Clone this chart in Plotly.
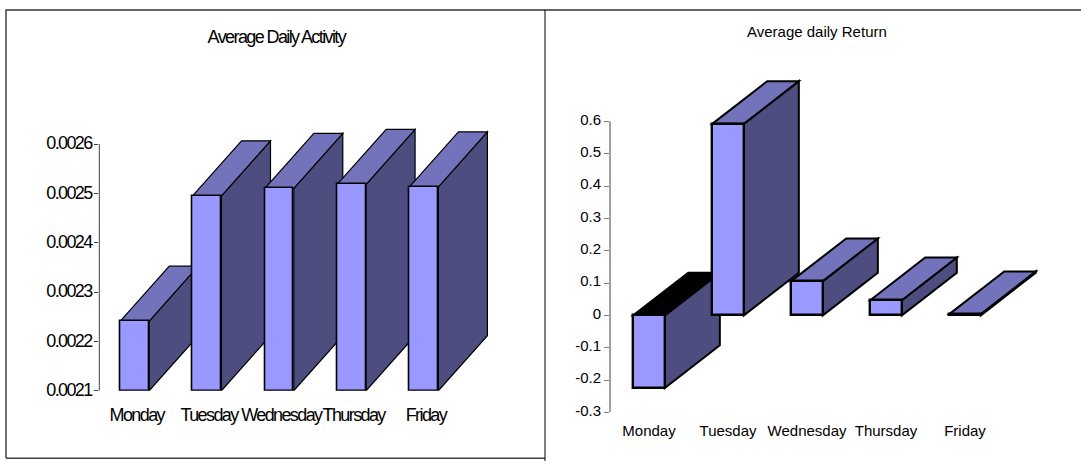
import plotly.graph_objects as go

days = ["Monday", "Tuesday", "Wednesday", "Thursday", "Friday"]
activity = [0.002241, 0.002495, 0.00251, 0.002518, 0.002513]
returns = [-0.225, 0.593, 0.106, 0.047, 0.004]
activity_ticks = [0.0021, 0.0022, 0.0023, 0.0024, 0.0025, 0.0026]
activity_labels = ["0.0021", "0.0022", "0.0023", "0.0024", "0.0025", "0.0026"]
return_ticks = [-0.3, -0.2, -0.1, 0, 0.1, 0.2, 0.3, 0.4, 0.5, 0.6]
return_labels = ["-0.3", "-0.2", "-0.1", "0", "0.1", "0.2", "0.3", "0.4", "0.5", "0.6"]

W, H = 1081, 461
FRONT, SIDE, TOP = "#9999FF", "#4D4D80", "#7373BB"
FONT = "Liberation Sans"
idx = list(range(len(days)))


def px(x):
    return x / W


def py(y):
    return 1 - y / H


def faces(values, base, half, dx, dy, xaxis, yaxis, lw, negative_top="#000000"):
    out = []
    for c, v in zip(idx, values):
        r = c + half
        l = c - half
        hi, lo = max(v, base), min(v, base)
        out.append(dict(type="path", xref=xaxis, yref=yaxis, layer="below",
                        path=f"M{r},{lo} L{r + dx},{lo + dy} L{r + dx},{hi + dy} L{r},{hi} Z",
                        fillcolor=SIDE, line=dict(color="black", width=lw)))
        out.append(dict(type="path", xref=xaxis, yref=yaxis, layer="below",
                        path=f"M{l},{hi} L{l + dx},{hi + dy} L{r + dx},{hi + dy} L{r},{hi} Z",
                        fillcolor=negative_top if v < base else TOP,
                        line=dict(color="black", width=lw)))
    return out


fig = go.Figure()
fig.add_bar(x=idx, y=[v - 0.0021 for v in activity], base=0.0021, width=0.4, xaxis="x", yaxis="y",
            marker=dict(color=FRONT, line=dict(color="black", width=1.6)), showlegend=False)
fig.add_bar(x=idx, y=returns, width=0.4, xaxis="x2", yaxis="y2",
            marker=dict(color=FRONT, line=dict(color="black", width=2.4)), showlegend=False)

shapes = []
shapes += faces(activity, 0.0021, 0.2, 49 / 72.3, 55 / 246.7 * 0.0005, "x", "y", 1.2)
shapes += faces(returns, 0, 0.2, 55 / 79, 42.7 / 323, "x2", "y2", 2)
# axis spines
shapes.append(dict(type="line", xref="paper", yref="y", x0=px(99.3), x1=px(99.3), y0=0.0021, y1=0.0026,
                   line=dict(color="#404040", width=1)))
shapes.append(dict(type="line", xref="paper", yref="y2", x0=px(610), x1=px(610), y0=-0.3, y1=0.6,
                   line=dict(color="#808080", width=1.5)))
# frames
for x0, y0, x1, y1, col, wid in [(5.5, 10, 545, 10, "#303030", 1.5), (545, 10, 1081, 10, "#303030", 1.5),
                                 (6, 10, 6, 458, "#404040", 1.5), (6, 458.3, 545, 458.3, "#404040", 1.5),
                                 (545, 10, 545, 461, "black", 1)]:
    shapes.append(dict(type="line", xref="paper", yref="paper", x0=px(x0), x1=px(x1), y0=py(y0), y1=py(y1),
                       line=dict(color=col, width=wid)))

fig.update_layout(
    width=W, height=H, margin=dict(l=0, r=0, t=0, b=0, pad=0), autosize=False,
    paper_bgcolor="white", plot_bgcolor="rgba(0,0,0,0)", bargap=0, showlegend=False,
    font=dict(family=FONT, color="black"),
    shapes=shapes,
    xaxis=dict(domain=[px(99.3), px(530)], range=[-0.49, -0.49 + (530 - 99.3) / 72.3], tickvals=idx, ticktext=days,
               showgrid=False, zeroline=False, showline=False, ticks="", ticklabelstandoff=11, ticklabelshift=2, tickangle=0, automargin=False,
               tickfont=dict(size=18, family=FONT), anchor="y"),
    yaxis=dict(domain=[py(390.7), py(100)], range=[0.0021, 0.0021 + (390.7 - 100) / 246.7 * 0.0005],
               tickvals=activity_ticks, ticktext=activity_labels, showgrid=False, zeroline=False, showline=False, automargin=False,
               ticks="outside", ticklen=4, tickcolor="#404040", ticklabelshift=-1, ticklabelstandoff=-1, tickfont=dict(size=18, family=FONT), anchor="x"),
    xaxis2=dict(domain=[px(610), px(1075)], range=[-0.494, -0.494 + (1075 - 610) / 79], tickvals=idx, ticktext=days,
                showgrid=False, zeroline=False, showline=False, ticks="", ticklabelstandoff=8, tickangle=0, automargin=False,
                tickfont=dict(size=15, family=FONT), anchor="y2"),
    yaxis2=dict(domain=[py(412.3), py(60)], range=[-0.3, -0.3 + (412.3 - 60) / 323], tickvals=return_ticks, automargin=False,
                ticktext=return_labels, showgrid=False, zeroline=False, showline=False, ticks="outside", ticklen=5, ticklabelshift=-2,
                tickcolor="#808080", tickfont=dict(size=15, family=FONT), anchor="x2"),
    annotations=[
        dict(text="Average Daily Activity", xref="paper", yref="paper", x=px(276.5), y=py(37), showarrow=False,
             xanchor="center", yanchor="middle", font=dict(size=18, family=FONT)),
        dict(text="Average daily Return", xref="paper", yref="paper", x=px(817), y=py(32), showarrow=False,
             xanchor="center", yanchor="middle", font=dict(size=15, family=FONT)),
    ],
)

post = """
document.body.style.margin='0';
document.body.style.overflow='hidden';
var sel='.subplot.xy .xaxislayer-above text, .subplot.xy .yaxislayer-above text, .annotation[data-index="0"] text';
document.querySelectorAll(sel).forEach(function(t){t.style.letterSpacing='-1.6px';});
"""
fig.write_html("out.html", config=dict(displayModeBar=False), post_script=post)
